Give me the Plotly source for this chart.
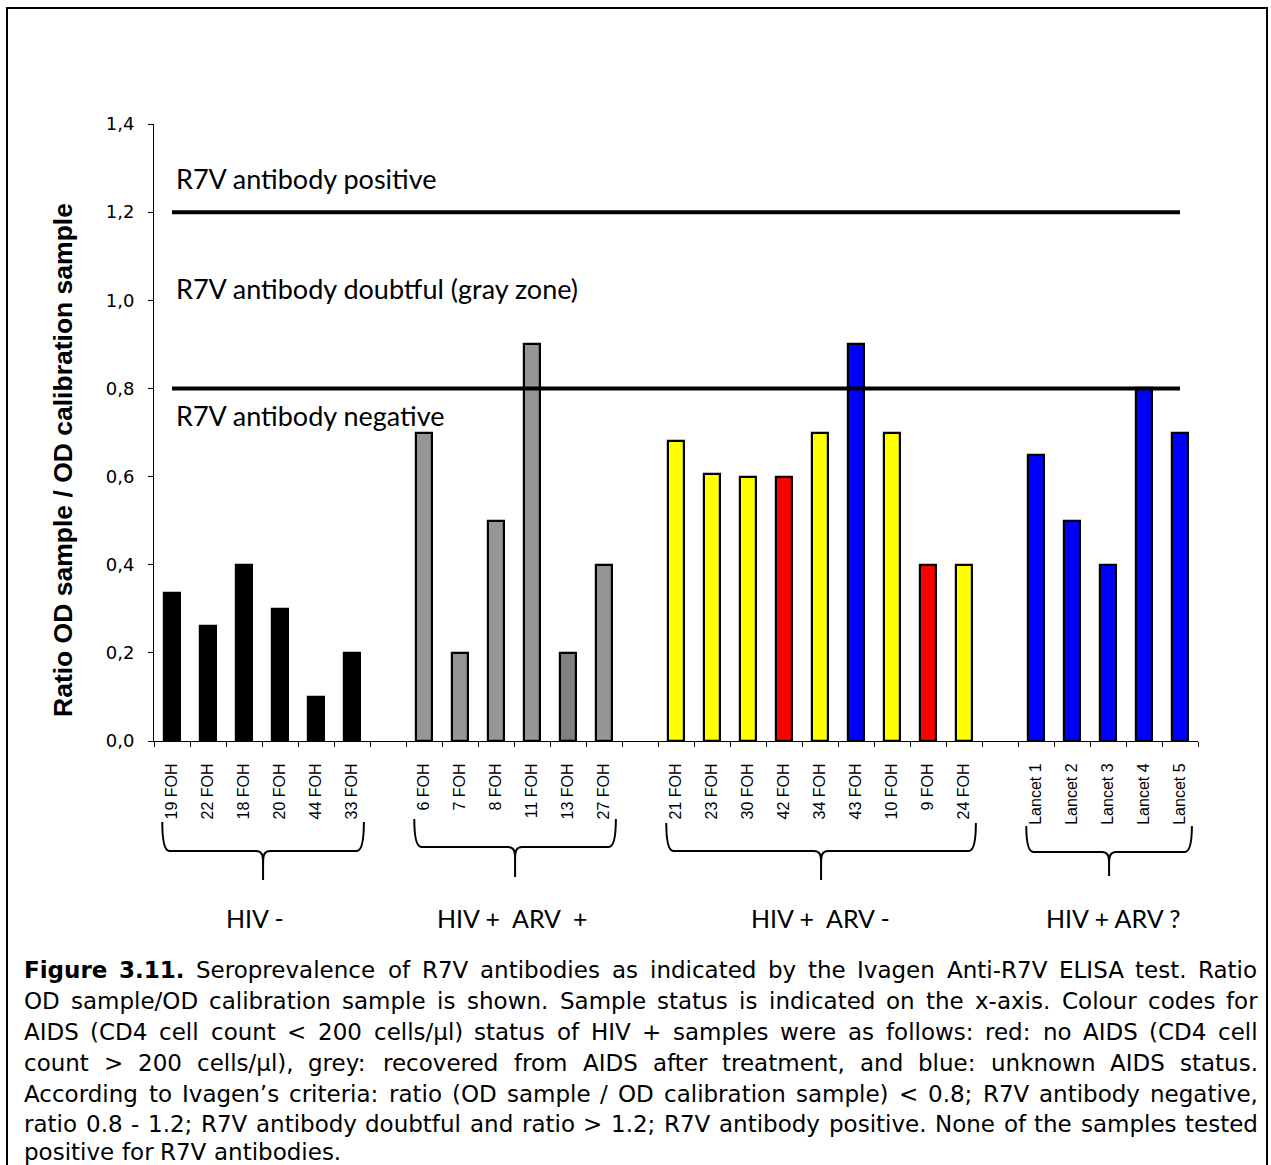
import plotly.graph_objects as go

# ---------------- data ----------------
group_names = ["HIV -", "HIV +\u00a0\u00a0ARV\u00a0\u00a0+", "HIV +\u00a0\u00a0ARV -", "HIV + ARV ?"]

g1_labels = ["19 FOH", "22 FOH", "18 FOH", "20 FOH", "44 FOH", "33 FOH"]
g1_values = [0.335, 0.26, 0.40, 0.30, 0.10, 0.20]
g1_colors = ["#000000"] * 6

g2_labels = ["6 FOH", "7 FOH", "8 FOH", "11 FOH", "13 FOH", "27 FOH"]
g2_values = [0.70, 0.20, 0.50, 0.90, 0.20, 0.40]
g2_colors = ["#969696", "#969696", "#969696", "#969696", "#7f7f7f", "#969696"]

g3_labels = ["21 FOH", "23 FOH", "30 FOH", "42 FOH", "34 FOH", "43 FOH", "10 FOH", "9 FOH", "24 FOH"]
g3_values = [0.68, 0.605, 0.60, 0.60, 0.70, 0.90, 0.70, 0.40, 0.40]
g3_colors = ["#FFFF00", "#FFFF00", "#FFFF00", "#FF0000", "#FFFF00", "#0000FF", "#FFFF00", "#FF0000", "#FFFF00"]

g4_labels = ["Lancet 1", "Lancet 2", "Lancet 3", "Lancet 4", "Lancet 5"]
g4_values = [0.65, 0.50, 0.40, 0.80, 0.70]
g4_colors = ["#0000FF"] * 5

threshold_values = [0.8, 1.2]
zone_labels = ["R7V antibody negative", "R7V antibody doubtful (gray zone)", "R7V antibody positive"]
y_tick_values = [0.0, 0.2, 0.4, 0.6, 0.8, 1.0, 1.2, 1.4]
y_title = "Ratio OD sample / OD calibration sample"

caption_lines = [
    "Figure 3.11. Seroprevalence of R7V antibodies as indicated by the Ivagen Anti-R7V ELISA test. Ratio",
    "OD sample/OD calibration sample is shown. Sample status is indicated on the x-axis. Colour codes for",
    "AIDS (CD4 cell count < 200 cells/\u00b5l) status of HIV + samples were as follows: red: no AIDS (CD4 cell",
    "count > 200 cells/\u00b5l), grey: recovered from AIDS after treatment, and blue: unknown AIDS status.",
    "According to Ivagen\u2019s criteria: ratio (OD sample / OD calibration sample) < 0.8; R7V antibody negative,",
    "ratio 0.8 - 1.2; R7V antibody doubtful and ratio > 1.2; R7V antibody positive. None of the samples tested",
    "positive for R7V antibodies.",
]

# ---------------- layout geometry (pixels) ----------------
W, H = 1271, 1165
PL, PR, PT, PB = 154, 1198, 124, 741


def px(x):
    return (x - PL) / (PR - PL)


def py(y):
    return (PB - y) / (PB - PT)


groups = [
    (g1_labels, g1_values, g1_colors),
    (g2_labels, g2_values, g2_colors),
    (g3_labels, g3_values, g3_colors),
    (g4_labels, g4_values, g4_colors),
]

xs, ys, cols, labs = [], [], [], []
group_ranges = []
pos = 0
for labels, values, colors in groups:
    start = pos
    for lab, val, col in zip(labels, values, colors):
        xs.append(pos)
        ys.append(val)
        cols.append(col)
        labs.append(lab)
        pos += 1
    group_ranges.append((start, pos - 1))
    pos += 1
last_idx = xs[-1]

fig = go.Figure()
fig.add_trace(go.Bar(
    x=xs, y=ys, width=0.45,
    marker=dict(color=cols, line=dict(color="black", width=2.2)),
    showlegend=False, hoverinfo="x+y",
))

AX_FONT = dict(family="Liberation Sans, Arial", size=16, color="black")

fig.update_layout(
    width=W, height=H,
    margin=dict(l=PL, r=W - PR, t=PT, b=H - PB),
    paper_bgcolor="white", plot_bgcolor="white",
    separators=",.",
    bargap=0,
    xaxis=dict(
        range=[-0.5, last_idx + 0.5],
        tickmode="array", tickvals=xs, ticktext=labs, tickangle=-90,
        ticks="", tickfont=AX_FONT,
        showline=True, linecolor="black", linewidth=1,
        showgrid=False, zeroline=False,
        ticklabelstandoff=15,
        minor=dict(tickmode="array", tickvals=[k - 0.5 for k in range(last_idx + 2)],
                   ticks="outside", ticklen=5, tickcolor="black", tickwidth=1, showgrid=False),
    ),
    yaxis=dict(
        range=[0, 1.4],
        tickmode="array", tickvals=y_tick_values, tickformat=".1f",
        ticks="outside", ticklen=5, tickcolor="black",
        tickfont=dict(family="DejaVu Sans", size=18, color="black"),
        showline=True, linecolor="black", linewidth=1,
        showgrid=False, zeroline=False,
        ticklabelstandoff=10,
    ),
)

shapes = []
# threshold lines
for tv in threshold_values:
    shapes.append(dict(type="line", xref="x", yref="y", x0=xs[0], x1=xs[-1], y0=tv, y1=tv,
                       line=dict(color="black", width=4), layer="above"))

# braces
brace_top = [822, 819, 823, 826]
brace_mid = [851, 847, 851, 852]
brace_bot = [880, 877, 880, 876]
for (a, b), yt, ym, yb in zip(group_ranges, brace_top, brace_mid, brace_bot):
    xl, xr = a - 0.27, b + 0.33
    xc = (xl + xr) / 2
    r = 0.2
    Yt, Ym, Yb = py(yt), py(ym), py(yb)
    Ym2 = py(ym + 4)
    Ym3 = py(ym + 12)
    path = (f"M {xl},{Yt} Q {xl},{Ym} {xl + r},{Ym} L {xc - r},{Ym} "
            f"C {xc - 0.03},{Ym} {xc},{Ym2} {xc},{Ym3} L {xc},{Yb} "
            f"M {xc},{Ym3} C {xc},{Ym2} {xc + 0.03},{Ym} {xc + r},{Ym} "
            f"L {xr - r},{Ym} Q {xr},{Ym} {xr},{Yt}")
    shapes.append(dict(type="path", xref="x", yref="paper", path=path,
                       line=dict(color="black", width=2)))

# outer frame
shapes.append(dict(type="rect", xref="paper", yref="paper",
                   x0=px(7), x1=px(1267), y0=py(8), y1=py(1180),
                   line=dict(color="black", width=2), fillcolor="rgba(0,0,0,0)"))
fig.update_layout(shapes=shapes)

annotations = []
ZONE_FONT = dict(family="Lato", size=27, color="black")
for text, ypix in zip(zone_labels, [415, 288, 178]):
    annotations.append(dict(text=text, xref="paper", yref="paper", x=px(174), y=py(ypix),
                            xanchor="left", yanchor="middle", showarrow=False, font=ZONE_FONT))

for name, (a, b), xoff in zip(group_names, group_ranges, [-0.2, -0.05, 0.0, 0.15]):
    annotations.append(dict(text=name, xref="x", yref="paper", x=(a + b) / 2 + xoff, y=py(918),
                            xanchor="center", yanchor="middle", showarrow=False,
                            font=dict(family="Lato", size=25, color="black")))

annotations.append(dict(text=f"<b>{y_title}</b>", xref="paper", yref="paper", x=px(63), y=py(460),
                        textangle=-90, xanchor="center", yanchor="middle", showarrow=False,
                        font=dict(family="Liberation Sans, Arial", size=26.5, color="black")))

# caption, justified word by word
REG = {' ': 0.318, 'a': 0.613, 'b': 0.635, 'c': 0.550, 'd': 0.635, 'e': 0.615, 'f': 0.352, 'g': 0.635,
       'h': 0.634, 'i': 0.278, 'j': 0.278, 'k': 0.579, 'l': 0.278, 'm': 0.974, 'n': 0.634, 'o': 0.612,
       'p': 0.635, 'q': 0.635, 'r': 0.411, 's': 0.521, 't': 0.392, 'u': 0.634, 'v': 0.592, 'w': 0.818,
       'x': 0.592, 'y': 0.592, 'z': 0.525, 'A': 0.684, 'B': 0.686, 'C': 0.698, 'D': 0.770, 'E': 0.632,
       'F': 0.575, 'G': 0.775, 'H': 0.752, 'I': 0.295, 'L': 0.557, 'M': 0.863, 'N': 0.748, 'O': 0.787,
       'P': 0.603, 'R': 0.695, 'S': 0.635, 'T': 0.611, 'V': 0.684, 'X': 0.685, '.': 0.318, ',': 0.318,
       ':': 0.337, ';': 0.337, '(': 0.390, ')': 0.390, '-': 0.361, '/': 0.337, '<': 0.838, '>': 0.838,
       '\u2019': 0.318, '\u00b5': 0.636, '+': 0.838}
BOLD = {'F': 0.683, 'i': 0.343, 'g': 0.716, 'u': 0.712, 'r': 0.493, 'e': 0.678, '.': 0.380}
CAP_SIZE = 23
CAP_LEFT, CAP_RIGHT = 23, 1257
cap_y = [970, 1001, 1032, 1063, 1094, 1124, 1152]


def wwidth(word, bold):
    tot = 0
    for ch in word:
        if ch.isdigit():
            tot += 0.696 if bold else 0.636
        elif bold:
            tot += BOLD.get(ch, REG.get(ch, 0.6) * 1.1)
        else:
            tot += REG.get(ch, 0.6)
    return tot * CAP_SIZE


def esc(w):
    return w.replace("<", "&lt;").replace(">", "&gt;")


for li, (line, yp) in enumerate(zip(caption_lines, cap_y)):
    words = line.split(" ")
    bold_flags = [li == 0 and wi < 2 for wi in range(len(words))]
    widths = [wwidth(w, b) for w, b in zip(words, bold_flags)]
    last = li == len(caption_lines) - 1
    if last or len(words) < 2:
        gap = 0.318 * CAP_SIZE
    else:
        gap = (CAP_RIGHT - CAP_LEFT - sum(widths)) / (len(words) - 1)
    x = CAP_LEFT
    for w, b, wd in zip(words, bold_flags, widths):
        txt = f"<b>{esc(w)}</b>" if b else esc(w)
        annotations.append(dict(text=txt, xref="paper", yref="paper", x=px(x), y=py(yp),
                                xanchor="left", yanchor="middle", showarrow=False, borderpad=0,
                                font=dict(family="DejaVu Sans", size=CAP_SIZE, color="black")))
        x += wd + gap

fig.update_layout(annotations=annotations)

fig.write_html("out.html")
